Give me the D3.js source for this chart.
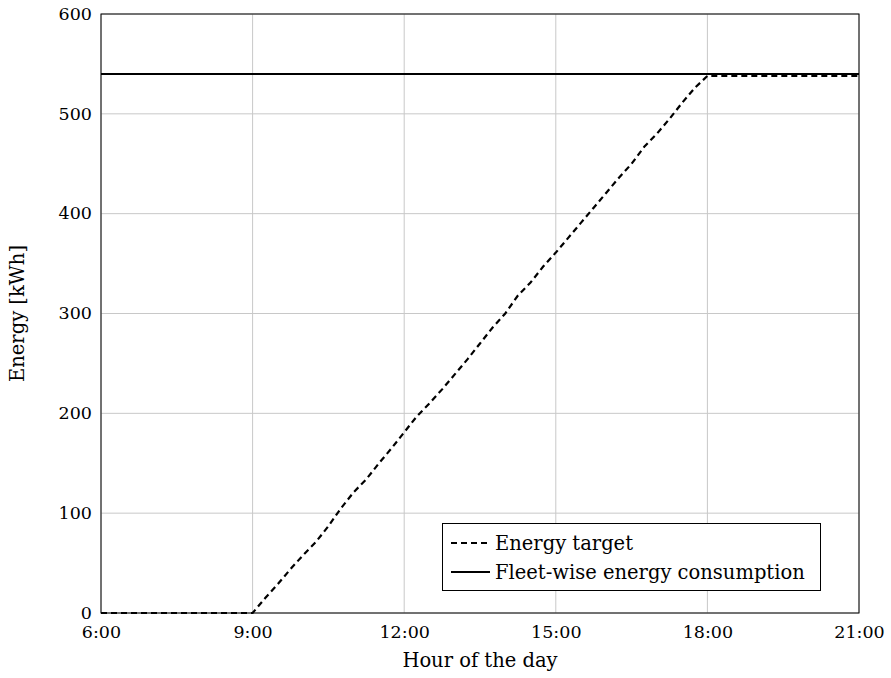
<!DOCTYPE html>
<html><head><meta charset="utf-8">
<script src="https://cdn.jsdelivr.net/npm/d3@7"></script>
<style>body{margin:0;background:#fff;} svg{display:block;} svg text{font-family:"DejaVu Serif",serif !important;}</style>
</head><body><svg id="c" width="891" height="678"></svg>
<script>
const targetHours = [6, 9, 9.25, 9.5, 9.75, 10, 10.25, 10.5, 10.75, 11, 11.25, 11.5, 11.75, 12, 12.25, 12.5, 12.75, 13, 13.25, 13.5, 13.75, 14, 14.25, 14.5, 14.75, 15, 15.25, 15.5, 15.75, 16, 16.25, 16.5, 16.75, 17, 17.25, 17.5, 17.75, 18, 21];
const targetValues = [0, 0, 15, 29, 44, 58, 71, 87, 105, 121, 134, 150, 165, 181, 197, 210, 224, 239, 254, 270, 286, 300, 318, 331, 347, 361, 376, 391, 406, 421, 436, 450, 467, 480, 495, 511, 526, 538, 538];
const consumptionHours = [6, 21];
const consumptionValues = [540, 540];
const xTicks = [6, 9, 12, 15, 18, 21];
const xTickLabels = ["6:00", "9:00", "12:00", "15:00", "18:00", "21:00"];
const yTicks = [0, 100, 200, 300, 400, 500, 600];
const seriesNames = ["Energy target", "Fleet-wise energy consumption"];

const TICKFONT = 17.5, WORDFONT = 19.5;
const svg = d3.select("#c");
const L = 101, R = 859, T = 14, B = 613;
const x = d3.scaleLinear().domain([6, 21]).range([L, R]);
const y = d3.scaleLinear().domain([0, 600]).range([B, T]);

// grid
const g = svg.append("g");
g.selectAll(".gx").data(xTicks).enter().append("line")
  .attr("x1", d => x(d)).attr("x2", d => x(d)).attr("y1", T).attr("y2", B)
  .attr("stroke", "#c8c8c8").attr("stroke-width", 1);
g.selectAll(".gy").data(yTicks).enter().append("line")
  .attr("x1", L).attr("x2", R).attr("y1", d => y(d)).attr("y2", d => y(d))
  .attr("stroke", "#c8c8c8").attr("stroke-width", 1);

// axes (labels only)
const xAxis = d3.axisBottom(x).tickValues(xTicks).tickFormat((d, i) => xTickLabels[i]).tickSize(0).tickPadding(13);
const xa = svg.append("g").attr("transform", `translate(0,${B})`).call(xAxis).attr("font-family", null).attr("font-size", null);
xa.select(".domain").remove();
xa.selectAll("text").attr("font-size", TICKFONT).attr("fill", "#000");

const yAxis = d3.axisLeft(y).tickValues(yTicks).tickSize(0).tickPadding(9);
const ya = svg.append("g").attr("transform", `translate(${L},0)`).call(yAxis).attr("font-family", null).attr("font-size", null);
ya.select(".domain").remove();
ya.selectAll("text").attr("font-size", TICKFONT).attr("fill", "#000").attr("dy", "0.3em");

// lines
const target = targetHours.map((h, i) => [h, targetValues[i]]);
const cons = consumptionHours.map((h, i) => [h, consumptionValues[i]]);
const line = d3.line().x(d => x(d[0])).y(d => y(d[1]));
svg.append("path").datum(cons).attr("d", line).attr("fill", "none").attr("stroke", "#000").attr("stroke-width", 2);
svg.append("path").datum(target).attr("d", line).attr("fill", "none").attr("stroke", "#000").attr("stroke-width", 2.2).attr("stroke-dasharray", "6,4");

// frame
svg.append("rect").attr("x", L).attr("y", T).attr("width", R - L).attr("height", B - T)
  .attr("fill", "none").attr("stroke", "#000").attr("stroke-width", 1);

// axis titles
svg.append("text").attr("x", (L + R) / 2).attr("y", 667).attr("text-anchor", "middle").attr("font-size", WORDFONT).text("Hour of the day");
svg.append("text").attr("transform", `translate(24,${(T + B) / 2}) rotate(-90)`).attr("text-anchor", "middle").attr("font-size", WORDFONT).text("Energy [kWh]");

// legend
const lg = svg.append("g");
lg.append("rect").attr("x", 442.5).attr("y", 523.5).attr("width", 378).attr("height", 67).attr("fill", "#fff").attr("stroke", "#000").attr("stroke-width", 1);
const rows = [{name: seriesNames[0], dash: "6,4"}, {name: seriesNames[1], dash: null}];
rows.forEach((r, i) => {
  const cy = 543 + i * 29;
  lg.append("line").attr("x1", 451).attr("x2", 490).attr("y1", cy).attr("y2", cy)
    .attr("stroke", "#000").attr("stroke-width", 2).attr("stroke-dasharray", r.dash);
  lg.append("text").attr("x", 495).attr("y", cy).attr("dy", "0.35em").attr("font-size", WORDFONT).text(r.name);
});
</script></body></html>
